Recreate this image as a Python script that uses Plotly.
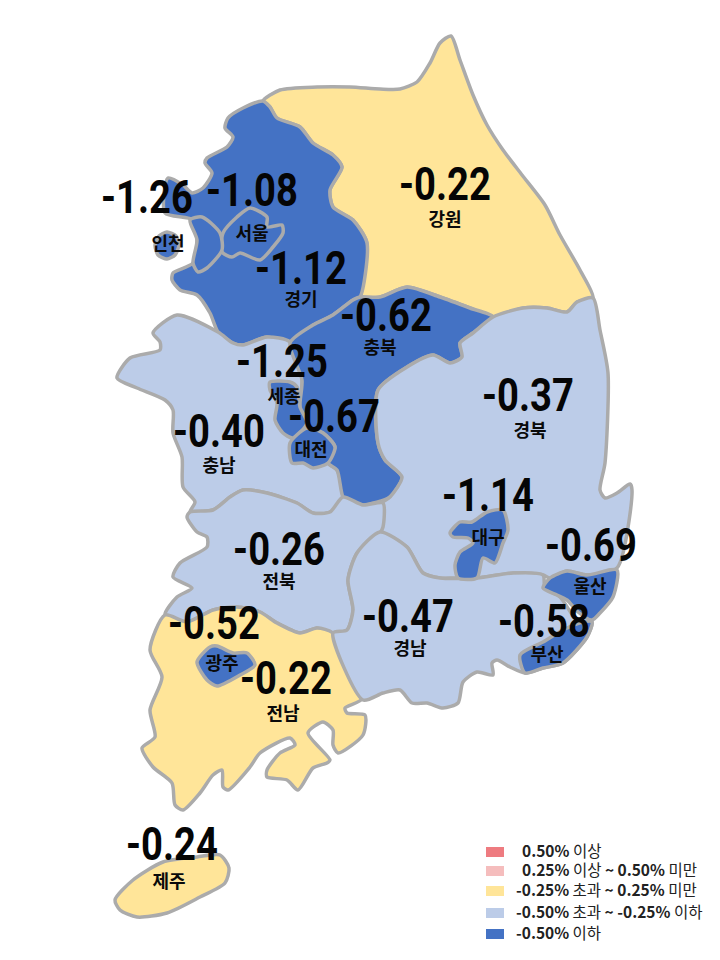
import plotly.graph_objects as go

# 시도별 변동률
regions = ['강원', '경기', '충남', '충북', '경북', '전북', '전남', '경남',
           '서울', '인천', '세종', '대전', '대구', '울산', '부산', '광주', '제주']
values = [-0.22, -1.12, -0.40, -0.62, -0.37, -0.26, -0.22, -0.47,
          -1.08, -1.26, -1.25, -0.67, -1.14, -0.69, -0.58, -0.52, -0.24]

num_x = [445, 301, 219, 386, 528, 279, 286, 408, 252, 147, 282, 334, 488, 591, 544, 214, 172]
num_y = [189, 273, 436, 320, 400, 554, 683, 621, 195, 202, 366, 421, 500, 550, 626, 628, 849]
name_x = [445, 301, 219, 380, 530, 279, 283, 410, 252, 168, 284, 311, 488, 590, 547, 222, 169]
name_y = [221, 301, 467, 349, 432, 583, 715, 650, 235, 245, 398, 451, 539, 588, 656, 665, 883]

# 지역 경계 (그림 좌표)
gangwon_x = [451, 460, 473, 487, 503, 522, 545, 560, 580, 593, 577, 567, 547, 523, 493, 470, 440, 407, 380, 360, 367, 353, 333, 330, 342, 333, 313, 300, 277, 270, 263, 280, 317, 350, 380, 400, 417, 430, 440]
gangwon_y = [36, 60, 95, 125, 150, 175, 205, 235, 270, 298, 302, 312, 308, 308, 317, 308, 297, 287, 297, 297, 243, 220, 207, 190, 167, 155, 143, 127, 118, 107, 101, 90, 87, 87, 89, 89, 82, 63, 43]

gyeonggi_x = [263, 243, 228, 225, 233, 227, 207, 205, 212, 203, 192, 183, 168, 165, 193, 197, 193, 173, 172, 180, 197, 210, 218, 233, 243, 267, 290, 313, 333, 353, 360, 367, 353, 333, 330, 342, 333, 313, 300, 277, 270]
gyeonggi_y = [101, 108, 118, 128, 137, 147, 158, 163, 173, 188, 193, 185, 178, 213, 220, 240, 263, 273, 280, 290, 295, 313, 332, 343, 345, 337, 342, 325, 315, 300, 297, 243, 220, 207, 190, 167, 155, 143, 127, 118, 107]

chungnam_x = [177, 218, 233, 243, 267, 290, 302, 300, 307, 323, 335, 328, 337, 343, 330, 313, 297, 267, 243, 230, 213, 190, 195, 183, 182, 173, 173, 165, 137, 117, 130, 160, 160, 153]
chungnam_y = [315, 332, 343, 345, 337, 342, 380, 407, 427, 433, 447, 463, 470, 497, 512, 513, 503, 493, 490, 497, 510, 512, 502, 487, 457, 433, 410, 400, 388, 378, 358, 350, 342, 333]

chungbuk_x = [290, 313, 333, 353, 360, 380, 407, 440, 470, 493, 473, 460, 462, 450, 433, 407, 378, 378, 385, 402, 390, 363, 350, 343, 337, 328, 335, 323, 307, 300, 302]
chungbuk_y = [343, 325, 315, 300, 297, 297, 287, 297, 308, 317, 333, 343, 357, 363, 355, 367, 390, 443, 460, 477, 497, 505, 502, 497, 470, 463, 447, 433, 427, 407, 380]

gyeongbuk_x = [493, 523, 547, 567, 577, 593, 600, 608, 605, 600, 605, 617, 630, 632, 617, 587, 567, 550, 543, 513, 477, 455, 440, 423, 407, 380, 383, 382, 390, 402, 385, 378, 378, 407, 433, 450, 462, 460, 473]
gyeongbuk_y = [317, 308, 308, 312, 302, 298, 330, 373, 463, 490, 498, 493, 484, 490, 568, 575, 571, 578, 575, 573, 578, 578, 578, 573, 547, 532, 520, 503, 497, 477, 460, 443, 390, 367, 355, 363, 357, 343, 333]

jeonbuk_x = [190, 213, 230, 243, 267, 297, 313, 330, 343, 363, 383, 383, 380, 357, 348, 353, 347, 333, 317, 300, 277, 260, 237, 213, 187, 165, 177, 192, 173, 180, 207, 207, 197, 187]
jeonbuk_y = [512, 510, 497, 490, 493, 503, 513, 512, 497, 505, 503, 527, 533, 553, 580, 610, 630, 633, 628, 633, 623, 612, 607, 610, 622, 615, 597, 588, 577, 563, 547, 537, 532, 517]

jeonnam_x = [165, 187, 213, 237, 260, 277, 300, 317, 333, 363, 345, 347, 365, 363, 338, 333, 333, 323, 308, 330, 327, 313, 298, 287, 267, 267, 280, 295, 290, 260, 250, 228, 223, 222, 213, 200, 183, 175, 172, 153, 142, 155, 150, 162, 150]
jeonnam_y = [615, 622, 610, 607, 612, 623, 633, 628, 633, 698, 708, 713, 715, 735, 753, 745, 730, 722, 733, 760, 763, 768, 790, 780, 777, 770, 753, 745, 738, 753, 767, 790, 787, 770, 775, 793, 810, 805, 783, 767, 748, 737, 710, 677, 650]

gyeongnam_x = [380, 407, 423, 440, 477, 513, 543, 545, 560, 577, 592, 587, 563, 543, 525, 510, 497, 492, 493, 477, 463, 458, 443, 427, 412, 400, 383, 363, 333, 347, 353, 348, 357]
gyeongnam_y = [532, 547, 573, 578, 578, 573, 575, 588, 597, 620, 622, 637, 663, 668, 673, 667, 660, 663, 675, 672, 682, 703, 708, 703, 703, 690, 693, 700, 633, 630, 610, 580, 553]

seoul_x = [223, 237, 250, 267, 267, 282, 283, 273, 260, 240, 232, 222]
seoul_y = [233, 217, 208, 217, 227, 225, 233, 247, 260, 253, 257, 252]

incheon_x = [190, 202, 220, 222, 207, 198, 193, 197]
incheon_y = [220, 217, 233, 250, 268, 272, 263, 240]
incheon_isl_x = [167, 176, 179, 175, 167, 158, 155, 159]
incheon_isl_y = [232, 236, 245, 255, 259, 255, 245, 236]

sejong_x = [270, 290, 297, 300, 307, 293, 283, 275, 277, 270]
sejong_y = [382, 382, 387, 407, 423, 438, 433, 420, 403, 390]

daejeon_x = [307, 323, 335, 328, 313, 303, 292, 290]
daejeon_y = [428, 433, 447, 463, 468, 463, 463, 443]

daegu_x = [450, 460, 472, 487, 503, 508, 503, 495, 483, 477, 458, 455, 460, 473, 468, 453]
daegu_y = [533, 522, 522, 512, 510, 530, 543, 563, 558, 578, 578, 565, 552, 543, 538, 537]

ulsan_x = [543, 550, 567, 587, 617, 613, 600, 592, 578, 567, 557]
ulsan_y = [588, 578, 571, 575, 570, 597, 613, 620, 612, 600, 595]

busan_x = [520, 543, 563, 583, 592, 587, 563, 543, 525]
busan_y = [655, 642, 630, 622, 622, 637, 663, 668, 673]

gwangju_x = [197, 210, 217, 233, 247, 255, 240, 217, 207]
gwangju_y = [662, 647, 646, 653, 653, 665, 675, 686, 680]

jeju_x = [115, 133, 163, 197, 220, 229, 225, 200, 167, 137, 120]
jeju_y = [900, 880, 862, 857, 855, 868, 883, 897, 913, 917, 910]

legend_labels = ['<b>0.50%</b> 이상', '<b>0.25%</b> 이상 <b>~ 0.50%</b> 미만',
                 '<b>-0.25%</b> 초과 <b>~ 0.25%</b> 미만',
                 '<b>-0.50%</b> 초과 <b>~ -0.25%</b> 이하', '<b>-0.50%</b> 이하']
legend_colors = ['#EE7B80', '#F5BDBD', '#FFE599', '#BCCCE8', '#4472C4']
legend_y = [852, 871, 891, 913, 934]
legend_text_y = [853, 872, 892, 914, 935]
legend_x = [522, 522, 516, 516, 516]


def region_color(v):
    if v >= 0.5:
        return legend_colors[0]
    if v >= 0.25:
        return legend_colors[1]
    if v > -0.25:
        return legend_colors[2]
    if v > -0.5:
        return legend_colors[3]
    return legend_colors[4]


outlines = {
    '강원': [(gangwon_x, gangwon_y)], '경기': [(gyeonggi_x, gyeonggi_y)],
    '충남': [(chungnam_x, chungnam_y)], '충북': [(chungbuk_x, chungbuk_y)],
    '경북': [(gyeongbuk_x, gyeongbuk_y)], '전북': [(jeonbuk_x, jeonbuk_y)],
    '전남': [(jeonnam_x, jeonnam_y)], '경남': [(gyeongnam_x, gyeongnam_y)],
    '서울': [(seoul_x, seoul_y)], '인천': [(incheon_x, incheon_y), (incheon_isl_x, incheon_isl_y)],
    '세종': [(sejong_x, sejong_y)], '대전': [(daejeon_x, daejeon_y)],
    '대구': [(daegu_x, daegu_y)], '울산': [(ulsan_x, ulsan_y)],
    '부산': [(busan_x, busan_y)], '광주': [(gwangju_x, gwangju_y)],
    '제주': [(jeju_x, jeju_y)],
}

fig = go.Figure()

for name, val in zip(regions, values):
    for xs, ys in outlines[name]:
        fig.add_trace(go.Scatter(x=xs + xs[:1], y=ys + ys[:1], mode='lines', fill='toself',
                                 fillcolor=region_color(val), name=name,
                                 line=dict(color='#ABABAB', width=3.5, shape='spline', smoothing=0.7)))

fig.add_trace(go.Scatter(x=name_x, y=name_y, text=regions, mode='text',
                         textfont=dict(family='Noto Sans CJK KR', size=18, color='#0A0A0A', weight=700)))
fig.add_trace(go.Scatter(x=num_x, y=num_y, text=['%.2f' % v for v in values], mode='text',
                         textfont=dict(family='Roboto', size=46, color='#050505', weight=700)))

# 범례
for yy, col in zip(legend_y, legend_colors):
    fig.add_shape(type='rect', x0=486, x1=504, y0=yy - 5, y1=yy + 5, fillcolor=col, line_width=0)
fig.add_trace(go.Scatter(x=legend_x, y=legend_text_y, text=legend_labels, mode='text',
                         textposition='middle right',
                         textfont=dict(family='Noto Sans CJK KR', size=15.5, color='#222222')))

fig.update_xaxes(range=[0, 720], visible=False, fixedrange=True)
fig.update_yaxes(range=[960, 0], visible=False, fixedrange=True)
fig.update_layout(width=720, height=960, margin=dict(l=0, r=0, t=0, b=0), showlegend=False,
                  paper_bgcolor='white', plot_bgcolor='white', hovermode='closest')

# 숫자는 원본처럼 좁은 글꼴로 보이게 가로로 줄임
narrow = """
document.body.style.margin = '0';
document.querySelectorAll('.textpoint text').forEach(function (t) {
    if (parseFloat(t.style.fontSize) > 40) {
        t.style.transformBox = 'fill-box';
        t.style.transformOrigin = 'center';
        t.style.transform = 'scaleX(0.83)';
    }
});
"""
fig.write_html("out.html", post_script=narrow, config={'displayModeBar': False})
